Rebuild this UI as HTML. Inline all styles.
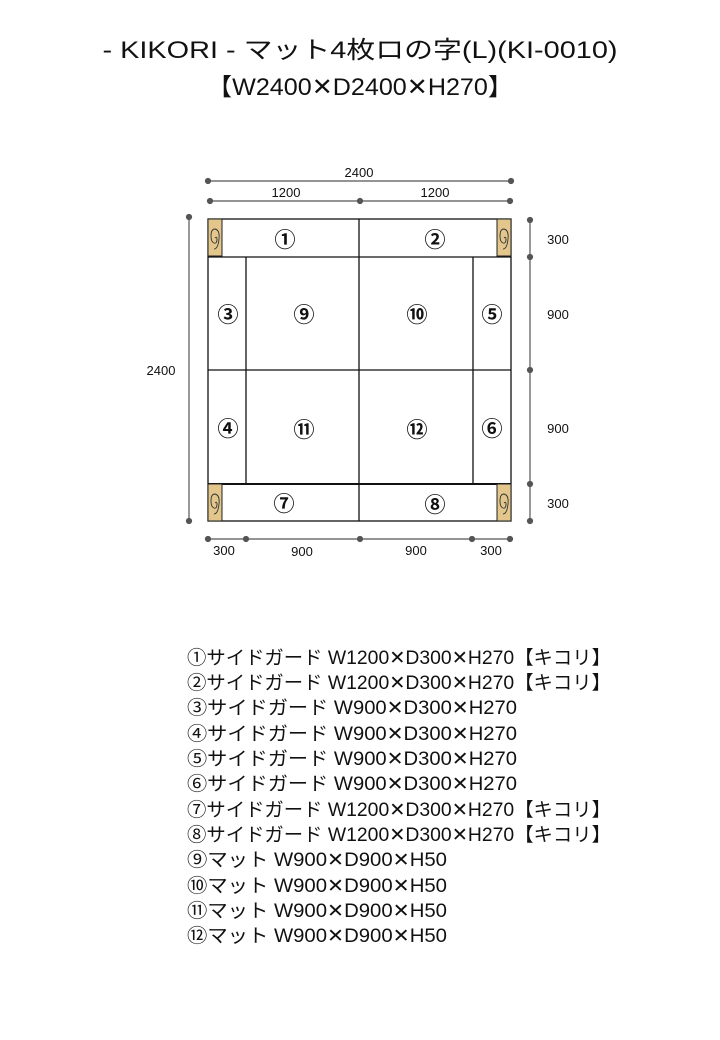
<!DOCTYPE html>
<html><head><meta charset="utf-8"><style>
html,body{margin:0;padding:0;background:#fff}
svg{display:block}
text{font-family:"Liberation Sans","Noto Sans CJK JP",sans-serif;fill:#111}
.x{font-family:"DejaVu Sans",sans-serif}
</style></head><body>
<svg width="720" height="1040" viewBox="0 0 720 1040" xmlns="http://www.w3.org/2000/svg">
<defs>
<g id="wood">
<rect x="0" y="0" width="14" height="37" fill="#e2c68c" stroke="#222" stroke-width="1"/>
<path d="M7 19 q2 -2 2 1 q0 5 -3 4 q-3 -1 -3 -7 q0 -7 4 -7 q5 1 4 10 q-1 10 -5 10" fill="none" stroke="#333" stroke-width="0.9"/>
</g>
</defs>
<text x="360" y="58" font-size="24" text-anchor="middle" textLength="515" lengthAdjust="spacingAndGlyphs">- KIKORI - マット4枚ロの字(L)(KI-0010)</text>
<text x="360" y="95" font-size="24" text-anchor="middle" textLength="306" lengthAdjust="spacingAndGlyphs">【W2400<tspan class="x">✕</tspan>D2400<tspan class="x">✕</tspan>H270】</text>

<g stroke="#555" stroke-width="1.2" fill="#555">
<line x1="208" y1="181" x2="511" y2="181"/><circle cx="208" cy="181" r="2.5"/><circle cx="511" cy="181" r="2.5"/>
<line x1="210" y1="201" x2="510" y2="201"/><circle cx="210" cy="201" r="2.5"/><circle cx="360" cy="201" r="2.5"/><circle cx="510" cy="201" r="2.5"/>
<line x1="189" y1="217" x2="189" y2="521"/><circle cx="189" cy="217" r="2.5"/><circle cx="189" cy="521" r="2.5"/>
<line x1="530" y1="220" x2="530" y2="521"/><circle cx="530" cy="220" r="2.5"/><circle cx="530" cy="257" r="2.5"/><circle cx="530" cy="370" r="2.5"/><circle cx="530" cy="484" r="2.5"/><circle cx="530" cy="521" r="2.5"/>
<line x1="208" y1="539" x2="510" y2="539"/><circle cx="208" cy="539" r="2.5"/><circle cx="246" cy="539" r="2.5"/><circle cx="360" cy="539" r="2.5"/><circle cx="472" cy="539" r="2.5"/><circle cx="510" cy="539" r="2.5"/>
</g>
<g font-size="13" fill="#444">
<text x="359" y="177" text-anchor="middle">2400</text>
<text x="286" y="197" text-anchor="middle">1200</text>
<text x="435" y="197" text-anchor="middle">1200</text>
<text x="161" y="375" text-anchor="middle">2400</text>
<text x="558" y="244" text-anchor="middle">300</text>
<text x="558" y="319" text-anchor="middle">900</text>
<text x="558" y="433" text-anchor="middle">900</text>
<text x="558" y="508" text-anchor="middle">300</text>
<text x="224" y="555" text-anchor="middle">300</text>
<text x="302" y="556" text-anchor="middle">900</text>
<text x="416" y="555" text-anchor="middle">900</text>
<text x="491" y="555" text-anchor="middle">300</text>
</g>

<g fill="none" stroke="#111" stroke-width="1.3">
<rect x="208" y="219" width="303" height="302"/>
<line x1="208" y1="257" x2="511" y2="257"/>
<line x1="208" y1="484" x2="511" y2="484" stroke-width="2"/>
<line x1="359" y1="219" x2="359" y2="521"/>
<line x1="246" y1="257" x2="246" y2="484"/>
<line x1="473" y1="257" x2="473" y2="484"/>
<line x1="208" y1="370" x2="511" y2="370"/>
</g>
<use href="#wood" x="208" y="219"/>
<use href="#wood" x="497" y="219"/>
<use href="#wood" x="208" y="484"/>
<use href="#wood" x="497" y="484"/>

<g font-size="21" text-anchor="middle" font-weight="bold">
<text x="285" y="247">①</text><text x="435" y="247">②</text>
<text x="228" y="322">③</text><text x="304" y="322">⑨</text><text x="417" y="322">⑩</text><text x="492" y="322">⑤</text>
<text x="228" y="436">④</text><text x="304" y="437">⑪</text><text x="417" y="437">⑫</text><text x="492" y="436">⑥</text>
<text x="284" y="511">⑦</text><text x="435" y="512">⑧</text>
</g>

<g font-size="19">
<text x="187" y="664" textLength="424" lengthAdjust="spacingAndGlyphs">①サイドガード W1200<tspan class="x">✕</tspan>D300<tspan class="x">✕</tspan>H270【キコリ】</text>
<text x="187" y="689" textLength="424" lengthAdjust="spacingAndGlyphs">②サイドガード W1200<tspan class="x">✕</tspan>D300<tspan class="x">✕</tspan>H270【キコリ】</text>
<text x="187" y="714" textLength="330" lengthAdjust="spacingAndGlyphs">③サイドガード W900<tspan class="x">✕</tspan>D300<tspan class="x">✕</tspan>H270</text>
<text x="187" y="740" textLength="330" lengthAdjust="spacingAndGlyphs">④サイドガード W900<tspan class="x">✕</tspan>D300<tspan class="x">✕</tspan>H270</text>
<text x="187" y="765" textLength="330" lengthAdjust="spacingAndGlyphs">⑤サイドガード W900<tspan class="x">✕</tspan>D300<tspan class="x">✕</tspan>H270</text>
<text x="187" y="790" textLength="330" lengthAdjust="spacingAndGlyphs">⑥サイドガード W900<tspan class="x">✕</tspan>D300<tspan class="x">✕</tspan>H270</text>
<text x="187" y="816" textLength="424" lengthAdjust="spacingAndGlyphs">⑦サイドガード W1200<tspan class="x">✕</tspan>D300<tspan class="x">✕</tspan>H270【キコリ】</text>
<text x="187" y="841" textLength="424" lengthAdjust="spacingAndGlyphs">⑧サイドガード W1200<tspan class="x">✕</tspan>D300<tspan class="x">✕</tspan>H270【キコリ】</text>
<text x="187" y="866" textLength="260" lengthAdjust="spacingAndGlyphs">⑨マット W900<tspan class="x">✕</tspan>D900<tspan class="x">✕</tspan>H50</text>
<text x="187" y="892" textLength="260" lengthAdjust="spacingAndGlyphs">⑩マット W900<tspan class="x">✕</tspan>D900<tspan class="x">✕</tspan>H50</text>
<text x="187" y="917" textLength="260" lengthAdjust="spacingAndGlyphs">⑪マット W900<tspan class="x">✕</tspan>D900<tspan class="x">✕</tspan>H50</text>
<text x="187" y="942" textLength="260" lengthAdjust="spacingAndGlyphs">⑫マット W900<tspan class="x">✕</tspan>D900<tspan class="x">✕</tspan>H50</text>
</g>
</svg>
</body></html>
